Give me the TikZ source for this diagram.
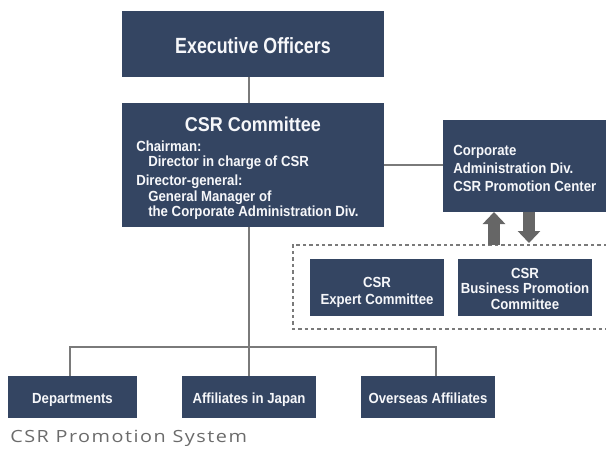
\documentclass[tikz,border=0pt]{standalone}
\usepackage{fontspec}
\setmainfont{Liberation Sans}
\newfontfamily\cndfont[FakeStretch=0.9]{Liberation Sans Bold}
\newfontfamily\cndtitlefont[FakeStretch=0.81]{Liberation Sans Bold}
\newfontfamily\capfont[FakeStretch=1.18,LetterSpace=9]{Open Sans}
\usepackage{tikz}
\usetikzlibrary{positioning,arrows.meta,calc}
\definecolor{csrnavy}{RGB}{52,69,98}
\definecolor{csrline}{RGB}{122,122,122}
\definecolor{csrarrow}{RGB}{102,102,102}
\definecolor{csrtext}{RGB}{246,247,250}
\tikzset{
	orgbox/.style={fill=csrnavy, inner sep=0pt, outer sep=0pt, anchor=north west},
	orgtext/.style={text=csrtext, inner sep=0pt, anchor=base, font=\cndfont\fontsize{11pt}{#1}\selectfont},
	orgtext/.default=11.5pt,
	orgtitle/.style={text=csrtext, inner sep=0pt, anchor=base, font=\cndtitlefont\fontsize{#1}{#1}\selectfont},
	conn/.style={draw=csrline, line width=1.4pt},
	flow/.style={draw=csrarrow, line width=9pt, -{Triangle[length=9pt,width=16.5pt]}},
	grp/.style={draw=csrline, line width=0.9pt, dash pattern=on 2.6pt off 2.2pt}
}
\begin{document}
\begin{tikzpicture}[x=0.75pt, y=-0.75pt]
	\useasboundingbox (0,0) rectangle (606,450);
	% boxes
	\node[orgbox, minimum width=262*0.75pt, minimum height=66*0.75pt] (exec) at (122,11) {};
	\node[orgbox, minimum width=262*0.75pt, minimum height=124*0.75pt] (csrc) at (122,103) {};
	\node[orgbox, minimum width=163*0.75pt, minimum height=92*0.75pt] (corp) at (443,120) {};
	\node[orgbox, minimum width=134*0.75pt, minimum height=57*0.75pt] (expert) at (310,259) {};
	\node[orgbox, minimum width=134*0.75pt, minimum height=57*0.75pt] (bizpro) at (458,259) {};
	\node[orgbox, minimum width=129*0.75pt, minimum height=42*0.75pt] (dept) at (8,376) {};
	\node[orgbox, minimum width=134*0.75pt, minimum height=42*0.75pt] (affj) at (182,376) {};
	\node[orgbox, minimum width=134*0.75pt, minimum height=42*0.75pt] (overseas) at (361,376) {};
	% texts (base = last line)
	\node[orgtitle=16.5pt] (execT) at (253,53) {Executive Officers};
	\node[orgtext, font=\cndfont\fontsize{15pt}{15pt}\selectfont] (csrcT) at (253,131) {CSR Committee};
	\node[orgtext, anchor=base west, align=left] (csrcB) at (136,216.5) {%
		Chairman:\\
		\hspace*{9pt}Director in charge of CSR\\[2.8pt]
		Director-general:\\
		\hspace*{9pt}General Manager of\\
		\hspace*{9pt}the Corporate Administration Div.};
	\node[orgtext=13.5pt, anchor=base west, align=left] (corpT) at (453,191.5) {%
		Corporate\\
		Administration Div.\\
		CSR Promotion Center};
	\node[orgtext=12.5pt, align=center] (expertT) at (377,304) {CSR\\ Expert Committee};
	\node[orgtext=11.6pt, align=center] (bizproT) at (525,309) {CSR\\ Business Promotion\\ Committee};
	\node[orgtext] (deptT) at (72.5,403) {Departments};
	\node[orgtext] (affjT) at (249,403) {Affiliates in Japan};
	\node[orgtext] (overseasT) at (428,403) {Overseas Affiliates};
	\node[anchor=base west, inner sep=0pt, text=black!58, font=\capfont\fontsize{12.6pt}{12.6pt}\selectfont] (caption) at (10,442) {CSR Promotion System};
	% connectors
	\coordinate (spine) at (249,347);
	\coordinate (dropL) at (70,347);
	\coordinate (dropR) at (436,347);
	\draw[conn] (exec.south -| spine) -- (csrc.north -| spine);
	\draw[conn] (csrc.east) -- (csrc.east -| corp.west);
	\draw[conn] (csrc.south -| spine) -- (spine);
	\draw[conn] (dropL |- dept.north) -- (dropL) -- (dropR) -- (dropR |- overseas.north);
	\draw[conn] (spine) -- (affj.north);
	% dashed group
	\coordinate (grpNE) at (607,245);
	\coordinate (grpSW) at (293,329);
	\draw[grp] (grpNE) -- (grpNE -| grpSW) -- (grpSW) -- (grpSW -| grpNE);
	\coordinate (upX) at (494,245);
	\coordinate (downX) at (529,243);
	\draw[flow] (upX) -- (upX |- corp.south);
	\draw[flow] (downX |- corp.south) -- (downX);
\end{tikzpicture}
\end{document}
